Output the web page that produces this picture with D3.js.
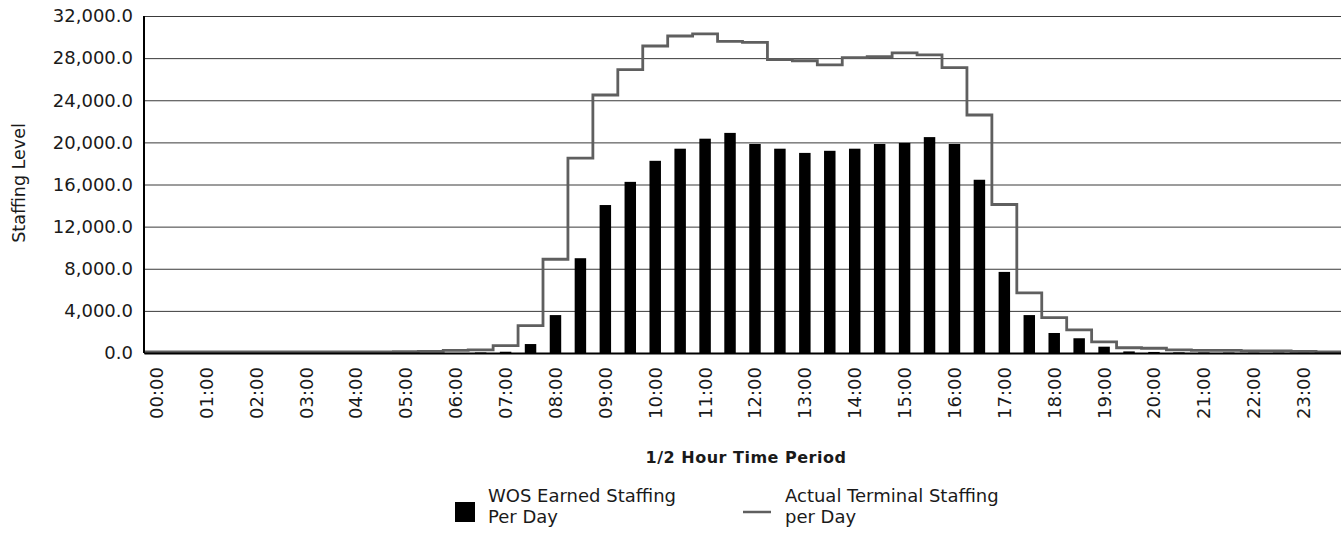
<!DOCTYPE html>
<meta charset="utf-8">
<style>
body { margin: 0; background: #fff; }
text { font-family: "DejaVu Sans", sans-serif; fill: #1a1a1a; }
.grid line { stroke: #3a3a3a; stroke-width: 1; }
.grid path { display: none; }
</style>
<body>
<script src="https://d3js.org/d3.v7.min.js"></script>
<script>

// half hour periods
var periods = ["00:00","00:30","01:00","01:30","02:00","02:30","03:00","03:30",
  "04:00","04:30","05:00","05:30","06:00","06:30","07:00","07:30",
  "08:00","08:30","09:00","09:30","10:00","10:30","11:00","11:30",
  "12:00","12:30","13:00","13:30","14:00","14:30","15:00","15:30",
  "16:00","16:30","17:00","17:30","18:00","18:30","19:00","19:30",
  "20:00","20:30","21:00","21:30","22:00","22:30","23:00","23:30"];

var hourLabels = ["00:00","01:00","02:00","03:00","04:00","05:00","06:00","07:00",
  "08:00","09:00","10:00","11:00","12:00","13:00","14:00","15:00",
  "16:00","17:00","18:00","19:00","20:00","21:00","22:00","23:00"];

var yTicks = [0, 4000, 8000, 12000, 16000, 20000, 24000, 28000, 32000];

// WOS Earned Staffing Per Day (bars)
var earned = [0,0,0,0,0,0,0,0,
  0,0,0,0,0,50,120,850,
  3600,9000,14050,16250,18250,19400,20350,20900,
  19850,19400,19000,19200,19400,19850,19950,20500,
  19850,16450,7700,3600,1900,1400,600,150,
  100,60,50,40,30,30,20,10];

// Actual Terminal Staffing per Day (step line)
var actual = [100,100,100,100,100,100,100,100,
  100,100,120,150,250,300,700,2600,
  8900,18500,24500,26900,29150,30100,30300,29600,
  29500,27850,27750,27350,28050,28150,28500,28300,
  27100,22600,14100,5700,3350,2200,1050,500,
  450,300,250,250,200,200,150,100];

var W = 1341, H = 536;
var plotLeft = 144, plotRight = 1341, plotTop = 16, plotBottom = 353;

var svg = d3.select("body").append("svg")
    .attr("width", W)
    .attr("height", H);

var x = d3.scaleBand().domain(periods).range([plotLeft, plotRight]).padding(0);
var y = d3.scaleLinear().domain([0, 32000]).range([plotBottom, plotTop]);

// gridlines
svg.append("g")
    .attr("class", "grid")
    .attr("transform", "translate(" + plotLeft + ",0)")
    .call(d3.axisLeft(y).tickValues(yTicks).tickSize(-(plotRight - plotLeft)).tickFormat(""));

// y axis labels
var yAxis = svg.append("g")
    .attr("transform", "translate(" + plotLeft + ",0)")
    .call(d3.axisLeft(y).tickValues(yTicks).tickSize(0).tickPadding(11).tickFormat(d3.format(",.1f")));
yAxis.select(".domain").remove();
yAxis.selectAll("text")
    .style("font-size", "18px")
    .style("font-family", "DejaVu Sans")
    .attr("fill", "#1a1a1a");

// bars
var bw = x.bandwidth() * 0.46;
svg.append("g").selectAll("rect")
    .data(earned)
    .enter().append("rect")
      .attr("x", function(d, i) { return x(periods[i]) + (x.bandwidth() - bw) / 2; })
      .attr("y", function(d) { return y(d); })
      .attr("width", bw)
      .attr("height", function(d) { return plotBottom - y(d); })
      .attr("fill", "#000");

// step line
var pts = actual.map(function(d, i) { return [x(periods[i]), y(d)]; });
pts.push([plotRight, y(actual[actual.length - 1])]);
svg.append("path")
    .attr("d", d3.line().curve(d3.curveStepAfter)(pts))
    .attr("fill", "none")
    .attr("stroke", "#5f5f5f")
    .attr("stroke-width", 2.8);

// axis lines
svg.append("line")
    .attr("x1", plotLeft).attr("x2", plotLeft)
    .attr("y1", plotTop).attr("y2", plotBottom)
    .attr("stroke", "#000").attr("stroke-width", 2);

var xAxis = svg.append("g")
    .attr("transform", "translate(0," + plotBottom + ")")
    .call(d3.axisBottom(x).tickValues(hourLabels).tickSize(0).tickSizeOuter(0));
xAxis.select(".domain").attr("stroke", "#000").attr("stroke-width", 2);
xAxis.selectAll("text")
    .attr("transform", "rotate(-90)")
    .attr("x", -14)
    .attr("y", 0)
    .attr("dy", "0.36em")
    .attr("text-anchor", "end")
    .style("font-size", "18px")
    .style("font-family", "DejaVu Sans")
    .attr("fill", "#1a1a1a");

// titles
svg.append("text")
    .attr("transform", "translate(25,183) rotate(-90)")
    .attr("text-anchor", "middle")
    .style("font-size", "17.5px")
    .text("Staffing Level");

svg.append("text")
    .attr("x", 746)
    .attr("y", 463)
    .attr("text-anchor", "middle")
    .style("font-size", "16px")
    .style("font-weight", "bold")
    .style("letter-spacing", "0.5px")
    .text("1/2 Hour Time Period");

// legend
var lg = svg.append("g");
lg.append("rect")
    .attr("x", 455).attr("y", 502)
    .attr("width", 20).attr("height", 20)
    .attr("fill", "#000");
var t1 = lg.append("text").attr("x", 488).attr("y", 502).style("font-size", "18px");
t1.append("tspan").attr("x", 488).text("WOS Earned Staffing");
t1.append("tspan").attr("x", 488).attr("dy", 21).text("Per Day");

lg.append("line")
    .attr("x1", 743).attr("x2", 771)
    .attr("y1", 512).attr("y2", 512)
    .attr("stroke", "#5f5f5f").attr("stroke-width", 2.5);
var t2 = lg.append("text").attr("x", 785).attr("y", 502).style("font-size", "18px");
t2.append("tspan").attr("x", 785).text("Actual Terminal Staffing");
t2.append("tspan").attr("x", 785).attr("dy", 21).text("per Day");

</script>
</body>
